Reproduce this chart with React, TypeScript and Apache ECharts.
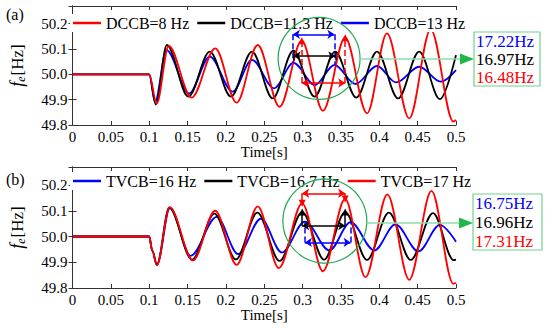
import React, { useEffect, useRef } from "react";
import * as echarts from "echarts";

const SERIF = '"Liberation Serif", "Times New Roman", serif';

// ---------- Panel (a): DCCB ----------
const dccb8T = [0, 0.1, 0.1097, 0.1254, 0.1552, 0.1862, 0.2139, 0.2415, 0.27, 0.2989, 0.3265, 0.3555, 0.384, 0.41, 0.439, 0.467, 0.4966, 0.5];
const dccb8V = [50, 50, 49.885, 50.112, 49.908, 50.103, 49.888, 50.116, 49.872, 50.133, 49.856, 50.145, 49.846, 50.162, 49.826, 50.178, 49.813, 49.82];

const dccb113T = [0, 0.1, 0.1085, 0.123, 0.151, 0.179, 0.2065, 0.234, 0.261, 0.288, 0.3155, 0.3425, 0.37, 0.397, 0.4245, 0.452, 0.479, 0.5];
const dccb113V = [50, 50, 49.881, 50.116, 49.912, 50.09, 49.912, 50.09, 49.905, 50.094, 49.912, 50.09, 49.908, 50.09, 49.905, 50.09, 49.902, 50.076];

const dccb13T = [0, 0.1, 0.1076, 0.1225, 0.152, 0.179, 0.2088, 0.234, 0.2628, 0.288, 0.316, 0.3415, 0.369, 0.397, 0.422, 0.452, 0.48, 0.5];
const dccb13V = [50, 50, 49.892, 50.096, 49.925, 50.07, 49.932, 50.057, 49.945, 50.045, 49.958, 50.037, 49.962, 50.033, 49.968, 50.03, 49.971, 50.017];

// ---------- Panel (b): TVCB ----------
const tvcb16T = [0, 0.1, 0.104, 0.11, 0.127, 0.154, 0.188, 0.216, 0.2457, 0.273, 0.303, 0.335, 0.3626, 0.3935, 0.421, 0.451, 0.479, 0.5];
const tvcb16V = [50, 50, 49.945, 49.89, 50.11, 49.925, 50.076, 49.932, 50.069, 49.938, 50.058, 49.946, 50.056, 49.946, 50.047, 49.942, 50.045, 49.98];

const tvcb167T = [0, 0.1, 0.104, 0.11, 0.126, 0.156, 0.185, 0.213, 0.241, 0.27, 0.2995, 0.328, 0.3555, 0.384, 0.4125, 0.441, 0.47, 0.497, 0.5];
const tvcb167V = [50, 50, 49.945, 49.89, 50.112, 49.91, 50.089, 49.911, 50.093, 49.905, 50.095, 49.91, 50.095, 49.909, 50.093, 49.909, 50.091, 49.908, 49.91];

const tvcb17T = [0, 0.1, 0.104, 0.11, 0.1267, 0.157, 0.186, 0.214, 0.2415, 0.269, 0.2995, 0.3265, 0.3555, 0.382, 0.4105, 0.439, 0.468, 0.4966, 0.5];
const tvcb17V = [50, 50, 49.945, 49.889, 50.114, 49.907, 50.1, 49.89, 50.117, 49.877, 50.129, 49.865, 50.146, 49.842, 50.164, 49.832, 50.177, 49.816, 49.82];

// ---------- texts ----------
const legendA = ["DCCB=8 Hz", "DCCB=11.3 Hz", "DCCB=13 Hz"];
const legendB = ["TVCB=16 Hz", "TVCB=16.7 Hz", "TVCB=17 Hz"];
const boxA = ["17.22Hz", "16.97Hz", "16.48Hz"];
const boxB = ["16.75Hz", "16.96Hz", "17.31Hz"];

// ---------- annotation positions (data units) ----------
const circleA = [0.3215, 50.063];
const circleB = [0.329, 50.06];

const RED = "#ff0000";
const BLK = "#000000";
const BLU = "#0000ff";
const GREEN = "#1faa52";

const zip = (t: number[], v: number[]) => t.map((x, i) => [x, v[i]]);

const seg = (t1: number, v1: number, t2: number, v2: number, s1: string, s2: string, dashed = false) => {
  const ls = { type: dashed ? "dashed" : "solid" };
  return [
    { coord: [t1, v1], symbol: s1, lineStyle: ls },
    { coord: [t2, v2], symbol: s2, lineStyle: ls },
  ];
};

const mk = (color: string, data: any[]) => ({
  silent: true,
  animation: false,
  symbolSize: 7,
  label: { show: false },
  emphasis: { disabled: true },
  lineStyle: { color, width: 1.5, type: "solid" },
  data,
});

function makeSeries(name: string, color: string, data: number[][], idx: number, markData: any[]) {
  return {
    name,
    type: "line",
    xAxisIndex: idx * 2,
    yAxisIndex: idx * 2,
    data,
    showSymbol: false,
    symbol: "none",
    smooth: 0.34,
    smoothMonotone: "x",
    lineStyle: { color, width: 1.8 },
    itemStyle: { color },
    emphasis: { disabled: true },
    markLine: mk(color, markData),
  };
}

const xFmt = (v: number) => String(parseFloat(v.toFixed(2)));

function axesFor(gi: number) {
  const lineStyle = { color: "#333", width: 1 };
  const tick = { show: true, inside: true, length: 4, lineStyle };
  const lab = { fontFamily: SERIF, fontSize: 15, color: "#000" };
  const xs = [
    {
      type: "value", gridIndex: gi, min: 0, max: 0.5, interval: 0.05, position: "bottom",
      axisLine: { show: true, lineStyle }, axisTick: tick, splitLine: { show: false },
      axisLabel: { ...lab, margin: 4, formatter: xFmt },
      name: "Time[s]", nameLocation: "middle", nameGap: 16.5,
      nameTextStyle: { fontFamily: SERIF, fontSize: 15, fontWeight: 400, color: "#000" },
    },
    {
      type: "value", gridIndex: gi, min: 0, max: 0.5, interval: 0.05, position: "top",
      axisLine: { show: true, lineStyle }, axisTick: tick, splitLine: { show: false },
      axisLabel: { show: false },
    },
  ];
  const ys = [
    {
      type: "value", gridIndex: gi, min: 49.8, max: 50.27, interval: 0.1, position: "left",
      axisLine: { show: true, lineStyle }, axisTick: tick, splitLine: { show: false },
      axisLabel: { ...lab, margin: 5, showMaxLabel: false, formatter: (v: number) => v.toFixed(1) },
      name: "{f|f}{e|e}[Hz]", nameLocation: "middle", nameGap: 46,
      nameTextStyle: {
        fontFamily: SERIF, fontSize: 17, fontWeight: 400, color: "#000",
        rich: {
          f: { fontFamily: SERIF, fontSize: 18, fontStyle: "italic", color: "#000" },
          e: { fontFamily: SERIF, fontSize: 12, fontStyle: "italic", color: "#000", padding: [7, 1, 0, 0] },
        },
      },
    },
    {
      type: "value", gridIndex: gi, min: 49.8, max: 50.27, interval: 0.1, position: "right",
      axisLine: { show: true, lineStyle }, axisTick: tick, splitLine: { show: false },
      axisLabel: { show: false },
    },
  ];
  return { xs, ys };
}

export default function App() {
  const ref = useRef<HTMLDivElement>(null);
  useEffect(() => {
    const chart = echarts.init(ref.current!, null, { renderer: "svg" });
    const a = axesFor(0);
    const b = axesFor(1);

    const seriesA = [
      makeSeries(legendA[2], BLU, zip(dccb13T, dccb13V), 0, [
        seg(0.2874, 50.158, 0.3415, 50.158, "arrow", "arrow"),
        seg(0.2874, 50.158, 0.2874, 50.045, "none", "none", true),
        seg(0.3415, 50.158, 0.3415, 50.037, "none", "none", true),
      ]),
      makeSeries(legendA[1], BLK, zip(dccb113T, dccb113V), 0, [
        seg(0.2883, 50.073, 0.3427, 50.073, "arrow", "arrow"),
        seg(0.2883, 50.094, 0.2883, 50.055, "none", "none"),
        seg(0.3427, 50.09, 0.3427, 50.055, "none", "none"),
      ]),
      makeSeries(legendA[0], RED, zip(dccb8T, dccb8V), 0, [
        seg(0.2989, 49.966, 0.3555, 49.966, "arrow", "arrow"),
        seg(0.2989, 49.966, 0.2989, 50.133, "none", "triangle", true),
        seg(0.3555, 49.966, 0.3555, 50.145, "none", "triangle", true),
      ]),
    ];
    const seriesB = [
      makeSeries(legendB[0], BLU, zip(tvcb16T, tvcb16V), 1, [
        seg(0.303, 49.977, 0.3626, 49.977, "arrow", "arrow"),
        seg(0.303, 49.977, 0.303, 50.058, "none", "none", true),
        seg(0.3626, 49.977, 0.3626, 50.056, "none", "none", true),
      ]),
      makeSeries(legendB[1], BLK, zip(tvcb167T, tvcb167V), 1, [
        seg(0.2995, 50.042, 0.3555, 50.042, "arrow", "arrow"),
        seg(0.2995, 50.042, 0.2995, 50.095, "none", "triangle"),
        seg(0.3555, 50.042, 0.3555, 50.095, "none", "triangle"),
      ]),
      makeSeries(legendB[2], RED, zip(tvcb17T, tvcb17V), 1, [
        seg(0.2995, 50.168, 0.3555, 50.168, "arrow", "arrow"),
        seg(0.2995, 50.168, 0.2995, 50.129, "none", "triangle"),
        seg(0.3555, 50.168, 0.3555, 50.146, "none", "triangle"),
      ]),
    ];

    const legendCommon = {
      orient: "horizontal",
      icon: "rect",
      itemWidth: 28,
      itemHeight: 2.5,
      itemGap: 8,
      backgroundColor: "#fff",
      padding: [1, 3],
      selectedMode: false,
      textStyle: { fontFamily: SERIF, fontSize: 16, color: "#000" },
    };

    chart.setOption({
      animation: false,
      backgroundColor: "#fff",
      textStyle: { fontFamily: SERIF },
      grid: [
        { left: 64, top: 6, width: 392, height: 119, show: false },
        { left: 64, top: 167, width: 392, height: 121, show: false },
      ],
      xAxis: [...a.xs, ...b.xs],
      yAxis: [...a.ys, ...b.ys],
      legend: [
        { ...legendCommon, data: legendA, left: 70, top: 14 },
        { ...legendCommon, data: legendB, left: 70, top: 172 },
      ],
      series: [...seriesA, ...seriesB],
    });

    const cA = chart.convertToPixel({ gridIndex: 0 }, circleA) as number[];
    const cB = chart.convertToPixel({ gridIndex: 1 }, circleB) as number[];

    const callout = (c: number[], r: number, arrowY: number, box: { x: number; y: number; w: number; h: number }, texts: string[]) => {
      const colors = [BLU, BLK, RED];
      const els: any[] = [
        { type: "circle", shape: { cx: c[0], cy: c[1], r }, style: { fill: "none", stroke: GREEN, lineWidth: 1.2 }, z: 10 },
        { type: "line", shape: { x1: c[0] + r, y1: arrowY, x2: box.x - 12, y2: arrowY }, style: { stroke: "#8fdcab", lineWidth: 1.5 }, z: 10 },
        { type: "polygon", shape: { points: [[box.x - 14, arrowY - 5.5], [box.x, arrowY], [box.x - 14, arrowY + 5.5]] }, style: { fill: "#20b64a" }, z: 10 },
        { type: "rect", shape: { x: box.x, y: box.y, width: box.w, height: box.h }, style: { fill: "#fff", stroke: "#6fd494", lineWidth: 1.2 }, z: 10 },
      ];
      const step = box.h / 3;
      texts.forEach((t, i) => {
        els.push({
          type: "text", x: box.x + 2, y: box.y + step / 2 + i * step + 0.5, z: 11,
          style: { text: t, fill: colors[i], font: `17px ${SERIF}`, verticalAlign: "middle" },
        });
      });
      return els;
    };

    chart.setOption({
      graphic: [
        { type: "text", left: 6, top: 6, style: { text: "(a)", font: `16px ${SERIF}`, fill: "#000" } },
        { type: "text", left: 6, top: 171, style: { text: "(b)", font: `16px ${SERIF}`, fill: "#000" } },
        ...callout(cA, 41, 59, { x: 474, y: 32, w: 66, h: 54 }, boxA),
        ...callout(cB, 42, 223, { x: 473, y: 194, w: 69, h: 56 }, boxB),
      ],
    });

    return () => chart.dispose();
  }, []);
  return <div ref={ref} style={{ position: "absolute", left: 0, top: 0, width: 550, height: 330 }} />;
}
